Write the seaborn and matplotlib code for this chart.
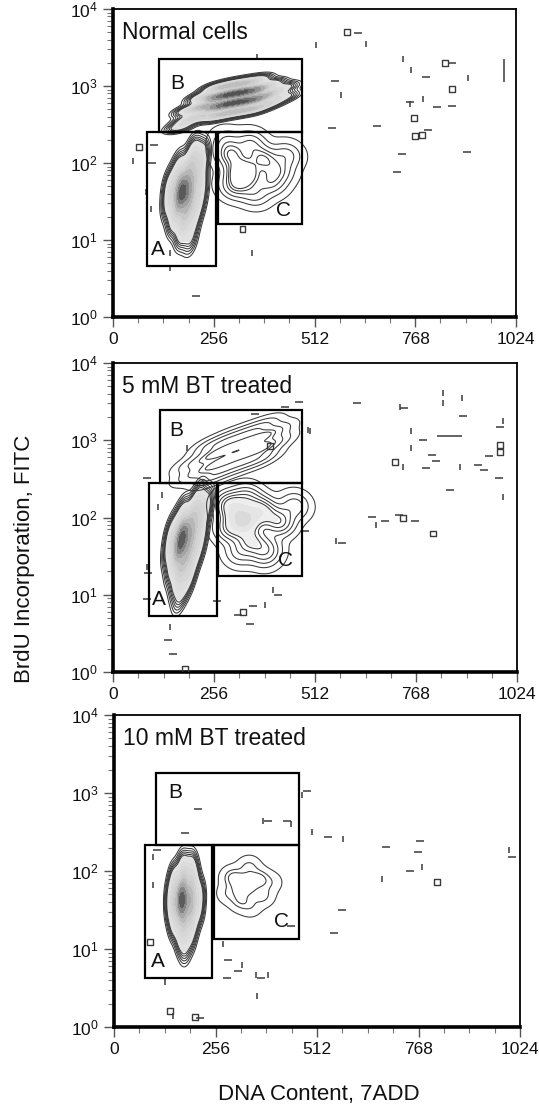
import numpy as np
import pandas as pd
import matplotlib
matplotlib.use("Agg")
import matplotlib.pyplot as plt
import seaborn as sns
from matplotlib.colors import LinearSegmentedColormap
from matplotlib.patches import Rectangle
from matplotlib.ticker import FixedLocator, FixedFormatter, LogLocator, MultipleLocator, NullFormatter

# ---------------------------------------------------------------- data
PANEL_TITLES = ["Normal cells", "5 mM BT treated", "10 mM BT treated"]
X_TICKS = [0, 256, 512, 768, 1024]
X_TICK_LABELS = ["0", "256", "512", "768", "1024"]
Y_TICKS = [1, 10, 100, 1000, 10000]
Y_TICK_LABELS = [r"$10^{0}$", r"$10^{1}$", r"$10^{2}$", r"$10^{3}$", r"$10^{4}$"]
X_LABEL = "DNA Content, 7ADD"
Y_LABEL = "BrdU Incorporation, FITC"
GATE_NAMES = ["A", "B", "C"]

# gates: [x_min, x_max, y_min, y_max]
P1_GATE_A = [87, 261, 4.6, 251]
P1_GATE_B = [118, 480, 251, 2240]
P1_GATE_C = [266, 480, 16, 251]
P2_GATE_A = [91, 263, 5.3, 282]
P2_GATE_B = [119, 480, 282, 2450]
P2_GATE_C = [267, 480, 17.5, 282]
P3_GATE_A = [77, 246, 4.2, 214]
P3_GATE_B = [106, 467, 214, 1780]
P3_GATE_C = [253, 467, 13.5, 214]

# gate label positions (x, y)
P1_LABEL_X = [115, 162, 433]
P1_LABEL_Y = [7.6, 1070, 24.5]
P2_LABEL_X = [117, 161, 436]
P2_LABEL_Y = [8.7, 1350, 28]
P3_LABEL_X = [110, 154, 423]
P3_LABEL_Y = [6.9, 1000, 22.4]

# population anchor events (x = DNA content, y = BrdU, w = event weight)
P1_A_X = [205, 225, 168, 192, 216, 148, 172, 196, 220, 146, 170, 194, 216, 158, 182, 204, 176, 196, 178]
P1_A_Y = [126, 120, 79, 79, 79, 50, 50, 50, 50, 32, 32, 32, 32, 20, 20, 20, 13, 11, 42]
P1_A_W = [1.0, 0.7, 0.9, 1.3, 1.0, 0.9, 1.6, 1.5, 0.8, 0.9, 1.6, 1.4, 0.7, 0.9, 1.2, 0.7, 0.6, 0.4, 2.0]

P1_B_X = [170, 190, 190, 225, 225, 225, 260, 260, 260, 260, 295, 295, 295, 295,
          330, 330, 330, 330, 365, 365, 365, 365, 400, 400, 400, 435, 435]
P1_B_Y = [295, 363, 479, 407, 537, 708, 407, 537, 708, 933, 447, 589, 776, 1023,
          479, 631, 832, 1096, 513, 676, 891, 1175, 603, 794, 1047, 724, 955]
P1_B_W = [0.7, 0.8, 0.8, 1, 1.3, 1, 1.1, 1.8, 1.8, 1.1, 1.2, 2.2, 2.2, 1.2,
          1.2, 2.2, 2.2, 1.2, 1.1, 1.8, 1.8, 1.0, 0.9, 1.2, 0.8, 0.6, 0.6]

P1_C_X = [330, 300, 380, 310, 400, 440, 350, 290, 360, 420]
P1_C_Y = [74, 126, 112, 50, 56, 126, 178, 191, 40, 79]
P1_C_W = [3, 1.5, 1.5, 1.2, 1, 0.8, 1, 0.6, 0.8, 1]

P2_A_X = [215, 235, 175, 198, 220, 152, 175, 198, 220, 148, 170, 193, 214, 155, 177, 198, 165, 188, 170, 175]
P2_A_Y = [158, 141, 100, 100, 100, 63, 63, 63, 63, 40, 40, 40, 40, 25, 25, 25, 16, 16, 10, 52]
P2_A_W = [0.9, 0.6, 0.9, 1.3, 1.0, 0.9, 1.7, 1.5, 0.8, 0.9, 1.7, 1.4, 0.7, 0.9, 1.4, 0.8, 0.8, 0.7, 0.4, 2.0]

P2_B_X = [200, 200, 245, 245, 245, 245, 290, 290, 290, 290, 335, 335, 335, 335,
          380, 380, 380, 380, 415, 415]
P2_B_Y = [355, 490, 331, 447, 617, 832, 417, 562, 776, 1047, 501, 676, 933, 1259,
          603, 813, 1122, 1514, 955, 1318]
P2_B_W = [0.8, 0.8, 1, 1.3, 1.3, 1, 1, 1.3, 1.3, 1, 1, 1.3, 1.3, 1,
          1, 1.3, 1.3, 1, 0.8, 0.8]

P2_C_X = [330, 300, 375, 420, 350, 295, 460, 340, 390, 320, 380]
P2_C_Y = [93, 141, 120, 89, 50, 71, 141, 178, 40, 35, 32]
P2_C_W = [4, 2, 2, 1.5, 1.5, 1.2, 0.7, 1, 0.8, 0.6, 0.5]

P3_A_X = [175, 195, 155, 177, 199, 148, 170, 192, 212, 148, 170, 192, 210, 155, 177, 197, 170, 190, 178, 172]
P3_A_Y = [112, 112, 76, 76, 76, 50, 50, 50, 50, 33, 33, 33, 33, 22, 22, 22, 14.5, 14.5, 10, 43]
P3_A_W = [0.7, 0.6, 0.9, 1.3, 1.0, 1.0, 1.7, 1.5, 0.8, 1.0, 1.7, 1.4, 0.7, 0.9, 1.3, 0.8, 0.7, 0.5, 0.3, 2.0]

P3_C_X = [330, 300, 365, 320, 375, 340, 290, 395, 345]
P3_C_Y = [66, 83, 79, 42, 48, 112, 52, 71, 35]
P3_C_W = [3, 1.5, 1.5, 1.2, 1, 1, 0.8, 0.6, 0.6]

# sparse single events: x, y, kind (h = dash, v = tick, s = box)
P1_OUT_X = [595, 623, 516, 643, 737, 757, 795, 844, 861, 902, 564, 579, 861, 755, 755, 788, 823, 861,
            765, 556, 671, 767, 785, 800, 734, 900, 722, 65, 104, 100, 52, 83, 96, 145, 145, 211,
            329, 354, 365]
P1_OUT_Y = [5012, 4900, 3390, 3548, 2239, 1622, 1318, 1995, 1995, 1259, 1148, 759, 912, 617, 589, 676,
            537, 550, 380, 282, 302, 224, 234, 269, 132, 138, 76, 163, 171, 100, 105, 42, 25, 6.7, 4.3,
            1.9, 14, 6.7, 2400]
P1_OUT_K = ["s", "h", "v", "v", "v", "v", "h", "s", "h", "v", "h", "v", "s", "h", "v", "v", "h", "h",
            "s", "h", "h", "s", "s", "h", "h", "h", "h", "s", "h", "h", "v", "v", "v", "v", "v", "h",
            "s", "v", "v"]
P1_VSEG_X = [993]
P1_VSEG_Y0 = [1122]
P1_VSEG_Y1 = [2239]

P2_OUT_X = [618, 728, 738, 837, 837, 884, 887, 988, 980, 499, 755, 755, 786, 808, 819, 981, 981, 715,
            735, 793, 880, 925, 940, 953, 979, 989, 854, 656, 667, 690, 736, 766, 725, 812, 580, 565,
            85, 89, 85, 263, 145, 140, 153, 183, 330, 356, 385, 347, 406, 418, 317, 85, 123, 114,
            471, 436, 360, 494, 187, 399, 486]
P2_OUT_Y = [3020, 2692, 2630, 4074, 3020, 3548, 2042, 1778, 1479, 1318, 1318, 794, 1000, 646, 537, 871,
            708, 525, 457, 437, 457, 479, 407, 617, 324, 186, 229, 102, 79, 89, 98, 89, 107, 62, 47, 50,
            23, 19, 8.7, 8.3, 3.8, 2.6, 1.7, 1.1, 6.0, 7.1, 7.4, 4.2, 11.5, 10, 5.5, 324, 195, 138,
            3090, 2692, 2188, 1349, 794, 851, 66]
P2_OUT_K = ["h", "v", "h", "v", "v", "v", "h", "v", "h", "v", "v", "v", "h", "h", "h", "s",
            "s", "s", "v", "h", "v", "h", "h", "h", "h", "v", "h", "h", "v", "h", "s", "h", "h", "s", "h", "v",
            "v", "h", "h", "h", "v", "h", "h", "s", "s", "h", "v", "h", "v", "h", "h", "h", "v", "v",
            "h", "h", "h", "v", "v", "s", "h"]
P2_HSEG_X0 = [821]
P2_HSEG_X1 = [885]
P2_HSEG_Y = [1148]

P3_OUT_X = [213, 179, 377, 388, 436, 446, 486, 474, 499, 540, 578, 686, 772, 767, 747, 776, 675, 814,
            574, 997, 1004, 555, 446, 108, 98, 99, 91, 246, 276, 288, 322, 313, 284, 372, 358, 388, 360,
            129, 141, 149, 204, 217]
P3_OUT_Y = [631, 309, 437, 437, 437, 398, 1072, 933, 316, 269, 257, 204, 240, 174, 100, 112, 78, 72,
            32, 186, 151, 16, 19.5, 186, 151, 66, 12.3, 12.3, 11.7, 7.2, 6.2, 5.2, 4.2, 4.2, 4.7, 4.7, 2.5,
            3.8, 1.6, 1.4, 1.35, 1.3]
P3_OUT_K = ["h", "h", "v", "h", "h", "v", "h", "v", "v", "h", "v", "h", "h", "h", "h", "v", "v", "s",
            "h", "v", "h", "h", "h", "h", "v", "v", "s", "v", "v", "h", "v", "h", "h", "h", "v", "v", "v",
            "v", "s", "v", "s", "h"]

# ---------------------------------------------------------------- style
sns.set_theme(style="ticks")
plt.rcParams["font.family"] = ["Liberation Sans", "DejaVu Sans"]
plt.rcParams["mathtext.fontset"] = "custom"
plt.rcParams["mathtext.rm"] = "Liberation Sans"
plt.rcParams["mathtext.it"] = "Liberation Sans:italic"
plt.rcParams["mathtext.bf"] = "Liberation Sans:bold"

LINE_COLOR = "#3a3a3a"
FILL_CMAP = LinearSegmentedColormap.from_list("fcm", ["#e4e4e4", "#cfcfcf", "#9a9a9a", "#4a4a4a"])
LIGHT_CMAP = LinearSegmentedColormap.from_list("lcm", ["#f2f2f2", "#d6d6d6"])

DENSE_LINES = [0.006, 0.012, 0.02, 0.03, 0.042, 0.056]
DENSE_FILL = [0.07, 0.15, 0.25, 0.38, 0.5, 0.62, 0.74, 0.85, 0.94, 1.0]

fig = plt.figure(figsize=(5.39, 11.05), dpi=100)
fig.patch.set_facecolor("white")

AX_RECTS = [
    [113 / 539, 1 - 317 / 1105, 403 / 539, 308 / 1105],
    [113 / 539, 1 - 672 / 1105, 404 / 539, 309 / 1105],
    [114 / 539, 1 - 1027 / 1105, 406 / 539, 312 / 1105],
]


def kde(ax, xs, ys, ws, line_levels, fill_levels=None, cmap=None, bw=0.6):
    df = pd.DataFrame({"x": xs, "y": ys, "w": ws})
    if fill_levels is not None:
        sns.kdeplot(data=df, x="x", y="y", weights="w", log_scale=(False, True),
                    bw_method=bw, fill=True, levels=fill_levels, cmap=cmap,
                    ax=ax, cut=5, gridsize=240)
    sns.kdeplot(data=df, x="x", y="y", weights="w", log_scale=(False, True),
                bw_method=bw, fill=False, levels=line_levels, colors=LINE_COLOR,
                linewidths=0.75, ax=ax, cut=5, gridsize=240)


def outliers(ax, xs, ys, ks):
    df = pd.DataFrame({"x": xs, "y": ys, "k": ks})
    for kind, mk, size in [("h", "_", 30), ("v", "|", 22)]:
        sub = df[df.k == kind]
        ax.scatter(sub.x, sub.y, marker=mk, s=size, c=LINE_COLOR, linewidths=1.1, zorder=4)
    sub = df[df.k == "s"]
    ax.scatter(sub.x, sub.y, marker="s", s=18, facecolors="none", edgecolors=LINE_COLOR,
               linewidths=1.0, zorder=4)


def gates(ax, gate_list, lx, ly):
    for g, name, x, y in zip(gate_list, GATE_NAMES, lx, ly):
        ax.add_patch(Rectangle((g[0], g[2]), g[1] - g[0], g[3] - g[2], fill=False,
                               ec="black", lw=1.6, zorder=5))
        ax.text(x, y, name, ha="center", va="center", fontsize=15, color="#111111", zorder=6)


def style(ax, title):
    ax.set_xlim(0, 1024)
    ax.set_yscale("log")
    ax.set_ylim(1, 10000)
    ax.set_xlabel("")
    ax.set_ylabel("")
    ax.xaxis.set_major_locator(FixedLocator(X_TICKS))
    ax.xaxis.set_major_formatter(FixedFormatter(X_TICK_LABELS))
    ax.xaxis.set_minor_locator(MultipleLocator(64))
    ax.yaxis.set_major_locator(FixedLocator(Y_TICKS))
    ax.yaxis.set_major_formatter(FixedFormatter(Y_TICK_LABELS))
    ax.yaxis.set_minor_locator(LogLocator(base=10, subs=np.arange(2, 10)))
    ax.yaxis.set_minor_formatter(NullFormatter())
    ax.tick_params(which="major", direction="out", length=7, width=1.0, color="#555555",
                   labelsize=12.5, pad=4, labelcolor="#111111")
    ax.tick_params(which="minor", direction="out", length=4, width=0.8, color="#777777")
    for side, lw in [("left", 2.6), ("bottom", 2.6), ("top", 1.3), ("right", 1.3)]:
        ax.spines[side].set_visible(True)
        ax.spines[side].set_linewidth(lw)
        ax.spines[side].set_color("black")
    ax.set_facecolor("white")
    ax.text(0.022, 0.925, title, transform=ax.transAxes, ha="left", va="center",
            fontsize=16.5, color="#111111", zorder=6)


# ---------------- panel 1
ax1 = fig.add_axes(AX_RECTS[0])
kde(ax1, P1_A_X, P1_A_Y, P1_A_W, DENSE_LINES, DENSE_FILL, FILL_CMAP, bw=0.5)
kde(ax1, P1_B_X, P1_B_Y, P1_B_W, DENSE_LINES, DENSE_FILL, FILL_CMAP, bw=0.33)
kde(ax1, P1_C_X, P1_C_Y, P1_C_W, [0.01, 0.06, 0.15, 0.3, 0.5, 0.7], bw=0.5)
outliers(ax1, P1_OUT_X, P1_OUT_Y, P1_OUT_K)
ax1.vlines(P1_VSEG_X, P1_VSEG_Y0, P1_VSEG_Y1, colors=LINE_COLOR, lw=1.1, zorder=4)
gates(ax1, [P1_GATE_A, P1_GATE_B, P1_GATE_C], P1_LABEL_X, P1_LABEL_Y)
style(ax1, PANEL_TITLES[0])

# ---------------- panel 2
ax2 = fig.add_axes(AX_RECTS[1])
kde(ax2, P2_A_X, P2_A_Y, P2_A_W, DENSE_LINES, DENSE_FILL, FILL_CMAP, bw=0.5)
kde(ax2, P2_B_X, P2_B_Y, P2_B_W, [0.01, 0.06, 0.18, 0.4, 0.65], bw=0.42)
kde(ax2, P2_C_X, P2_C_Y, P2_C_W, [0.008, 0.04, 0.1, 0.2, 0.32, 0.45], [0.5, 0.7, 0.9, 1.0],
    LIGHT_CMAP, bw=0.5)
outliers(ax2, P2_OUT_X, P2_OUT_Y, P2_OUT_K)
ax2.hlines(P2_HSEG_Y, P2_HSEG_X0, P2_HSEG_X1, colors=LINE_COLOR, lw=1.1, zorder=4)
gates(ax2, [P2_GATE_A, P2_GATE_B, P2_GATE_C], P2_LABEL_X, P2_LABEL_Y)
style(ax2, PANEL_TITLES[1])

# ---------------- panel 3
ax3 = fig.add_axes(AX_RECTS[2])
kde(ax3, P3_A_X, P3_A_Y, P3_A_W, DENSE_LINES, DENSE_FILL, FILL_CMAP, bw=0.5)
kde(ax3, P3_C_X, P3_C_Y, P3_C_W, [0.03, 0.22, 0.5], bw=0.55)
outliers(ax3, P3_OUT_X, P3_OUT_Y, P3_OUT_K)
gates(ax3, [P3_GATE_A, P3_GATE_B, P3_GATE_C], P3_LABEL_X, P3_LABEL_Y)
style(ax3, PANEL_TITLES[2])

fig.text(0.046, 0.494, Y_LABEL, rotation=90, ha="center", va="center", fontsize=16, color="#111111")
fig.text(0.591, 0.0045, X_LABEL, ha="center", va="baseline", fontsize=16, color="#111111")

fig.savefig("out.png", dpi=100, facecolor="white")
